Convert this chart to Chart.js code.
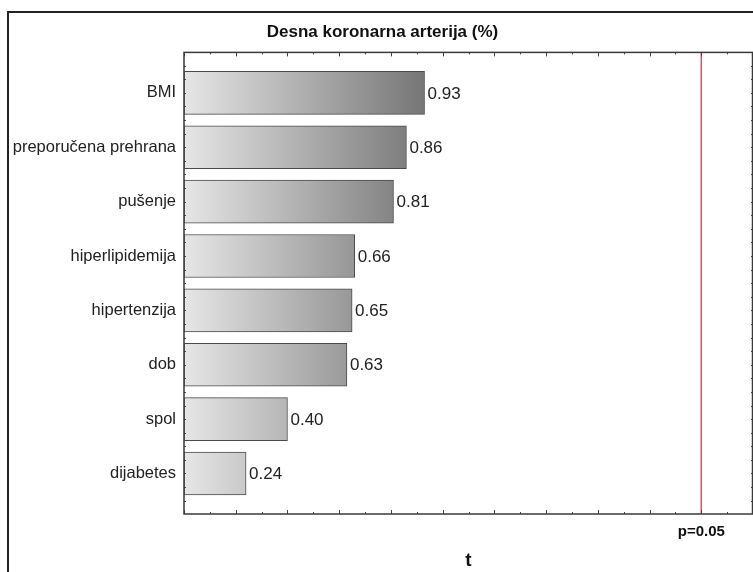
<!DOCTYPE html>
<html>

<head>
    <meta charset="utf-8">
    <title>Desna koronarna arterija</title>
    <style>
        body {
            margin: 0;
            background: white;
            overflow: hidden;
        }

        .okvir {
            position: relative;
            width: 753px;
            height: 572px;
            overflow: hidden;
        }

        /* vanjski okvir slike */
        .rub {
            position: absolute;
            left: 7px;
            top: 11px;
            width: 800px;
            height: 700px;
            border: 2px solid #222;
            pointer-events: none;
        }
    </style>
</head>

<body>
    <div class="okvir">
        <canvas id="grafT" width="753" height="572"></canvas>
        <div class="rub"></div>
    </div>

    <script src="https://cdn.jsdelivr.net/npm/chart.js"></script>
    <script>
        // podaci (t vrijednosti)
        const kategorije = ['BMI', 'preporučena prehrana', 'pušenje', 'hiperlipidemija', 'hipertenzija', 'dob', 'spol', 'dijabetes'];
        const vrijednosti = [0.93, 0.86, 0.81, 0.66, 0.65, 0.63, 0.40, 0.24];
        const granica = [2.0];
        const granicaTekst = ['p=0.05'];
        const osX = [0, 2.2];

        const font = "'Liberation Sans', Arial, sans-serif";

        // gradijent preko cijele x osi
        function boja(ctx) {
            const chart = ctx.chart;
            if (!chart.chartArea) return '#bbbbbb';
            const x = chart.scales.x;
            const g = chart.ctx.createLinearGradient(x.getPixelForValue(0), 0, x.getPixelForValue(Math.max(...vrijednosti)), 0);
            g.addColorStop(0, '#e6e6e6');
            g.addColorStop(1, '#767676');
            return g;
        }

        // okvir, crtice, crvena linija i brojevi na stupcima
        const dodaci = {
            id: 'dodaci',
            afterDatasetsDraw(chart) {
                const c = chart.ctx;
                const a = chart.chartArea;
                const x = chart.scales.x;
                const y = chart.scales.y;
                c.save();

                // brojevi
                c.font = '17px ' + font;
                c.fillStyle = '#222';
                c.textAlign = 'left';
                c.textBaseline = 'middle';
                chart.getDatasetMeta(0).data.forEach(function (bar, i) {
                    c.fillText(vrijednosti[i].toFixed(2), bar.x + 3, bar.y + 1);
                });

                // crvena linija
                const gx = x.getPixelForValue(granica[0]);
                c.strokeStyle = '#f04a5a';
                c.lineWidth = 1.5;
                c.beginPath();
                c.moveTo(gx, a.top);
                c.lineTo(gx, a.bottom);
                c.stroke();

                c.font = 'bold 15px ' + font;
                c.fillStyle = '#111';
                c.textAlign = 'center';
                c.fillText(granicaTekst[0], gx, a.bottom + 18);

                // crtice na x osi
                c.strokeStyle = '#444';
                c.lineWidth = 1;
                c.beginPath();
                for (let k = 0; k <= 22; k++) {
                    const px = Math.round(x.getPixelForValue(k / 10)) + 0.5;
                    const d = k % 2 === 0 ? 4 : 2;
                    c.moveTo(px, a.bottom);
                    c.lineTo(px, a.bottom - d);
                    c.moveTo(px, a.top);
                    c.lineTo(px, a.top + d);
                }
                // crtice na y osi
                for (let k = -2; k <= 30; k++) {
                    const py = Math.round(y.getPixelForValue(k / 4)) + 0.5;
                    c.moveTo(a.left, py);
                    c.lineTo(a.left + 2, py);
                    c.moveTo(a.right, py);
                    c.lineTo(a.right - 2, py);
                }
                c.stroke();

                // okvir grafa
                c.strokeStyle = '#3a3a3a';
                c.lineWidth = 1.5;
                c.strokeRect(a.left, a.top, a.right - a.left - 0.5, a.bottom - a.top);
                c.restore();
            }
        };

        const ctxT = document.getElementById('grafT').getContext('2d');

        const grafT = new Chart(ctxT, {
            type: 'bar',
            data: {
                datasets: [{
                    data: vrijednosti.map(function (v, i) { return { x: v, y: i }; }),
                    backgroundColor: boja,
                    borderColor: '#4a4a4a',
                    borderWidth: 1,
                    borderSkipped: false,
                    barThickness: 43
                }]
            },
            options: {
                indexAxis: 'y',
                responsive: false,
                animation: false,
                layout: { padding: { left: 12, right: 0, top: 0, bottom: 0 } },
                plugins: {
                    legend: { display: false },
                    tooltip: { enabled: false },
                    title: {
                        display: true,
                        text: 'Desna koronarna arterija (%)',
                        color: '#111',
                        font: { family: font, size: 17, weight: 'bold' },
                        padding: { top: 22, bottom: 10 }
                    }
                },
                scales: {
                    x: {
                        type: 'linear',
                        min: osX[0],
                        max: osX[1],
                        grid: { display: false },
                        border: { display: false },
                        ticks: { display: false },
                        title: {
                            display: true,
                            text: 't',
                            color: '#111',
                            font: { family: font, size: 19, weight: 'bold' },
                            padding: 0
                        },
                        afterFit(s) { s.height = 58; }
                    },
                    y: {
                        type: 'linear',
                        reverse: true,
                        offset: false,
                        min: -0.745,
                        max: kategorije.length - 1 + 0.745,
                        grid: { display: false, drawTicks: false, offset: false },
                        border: { display: false },
                        afterBuildTicks(s) {
                            s.ticks = kategorije.map(function (_, i) { return { value: i }; });
                        },
                        ticks: {
                            padding: 8,
                            color: '#222',
                            font: { family: font, size: 16.5 },
                            callback: function (v) { return kategorije[v]; }
                        },
                        afterFit(s) { s.width = 172; }
                    }
                }
            },
            plugins: [dodaci]
        });
    </script>
</body>

</html>
